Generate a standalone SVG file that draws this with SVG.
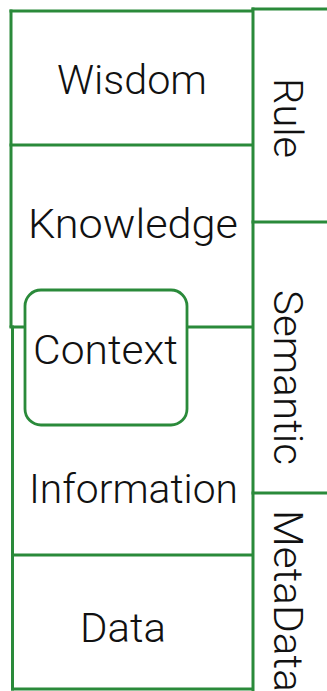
<svg xmlns="http://www.w3.org/2000/svg" width="327" height="691" viewBox="0 0 327 691">
  <style>
    .ln { stroke: #2a8a3a; stroke-width: 3; fill: none; stroke-linecap: square; }
    .box { stroke: #2a8a3a; stroke-width: 2.8; fill: #ffffff; }
    .lbl { font-family: Roboto, "Liberation Sans", sans-serif; font-weight: 300; font-size: 40px; fill: #111111; }
  </style>
  <rect width="327" height="691" fill="#ffffff"/>

  <!-- grid lines of the stack and the side column -->
  <g id="connectors">
    <!-- left stack -->
    <path class="ln" d="M11 11 H252"/>
    <path class="ln" d="M11 11 V326"/>
    <path class="ln" d="M11 145 H252"/>
    <path class="ln" d="M11 327 H252"/>
    <path class="ln" d="M12.5 327 V689"/>
    <path class="ln" d="M12.5 555 H252"/>
    <path class="ln" d="M12.5 689 H252"/>
    <!-- side column -->
    <path class="ln" d="M253 9 H327"/>
    <path class="ln" d="M253 9 V691"/>
    <path class="ln" d="M253 222 H327"/>
    <path class="ln" d="M253 493 H327"/>
  </g>

  <g id="wisdom">
    <text class="lbl" x="132" y="94" text-anchor="middle" textLength="150" lengthAdjust="spacingAndGlyphs">Wisdom</text>
  </g>
  <g id="knowledge">
    <text class="lbl" x="133" y="238" text-anchor="middle" textLength="210" lengthAdjust="spacingAndGlyphs">Knowledge</text>
  </g>
  <g id="information">
    <text class="lbl" x="133.5" y="503" text-anchor="middle" textLength="209" lengthAdjust="spacingAndGlyphs">Information</text>
  </g>
  <g id="data">
    <text class="lbl" x="123" y="642" text-anchor="middle" textLength="86" lengthAdjust="spacingAndGlyphs">Data</text>
  </g>
  <g id="context">
    <rect class="box" x="25" y="290" width="162" height="135" rx="16" ry="16"/>
    <text class="lbl" x="105.5" y="364" text-anchor="middle" textLength="145" lengthAdjust="spacingAndGlyphs">Context</text>
  </g>

  <g id="rule">
    <text class="lbl" transform="translate(274 78) rotate(90)" x="0" y="0" textLength="80" lengthAdjust="spacingAndGlyphs">Rule</text>
  </g>
  <g id="semantic">
    <text class="lbl" transform="translate(274 290) rotate(90)" x="0" y="0" textLength="175" lengthAdjust="spacingAndGlyphs">Semantic</text>
  </g>
  <g id="metadata">
    <text class="lbl" transform="translate(274 510) rotate(90)" x="0" y="0" textLength="182" lengthAdjust="spacingAndGlyphs">MetaData</text>
  </g>
</svg>
